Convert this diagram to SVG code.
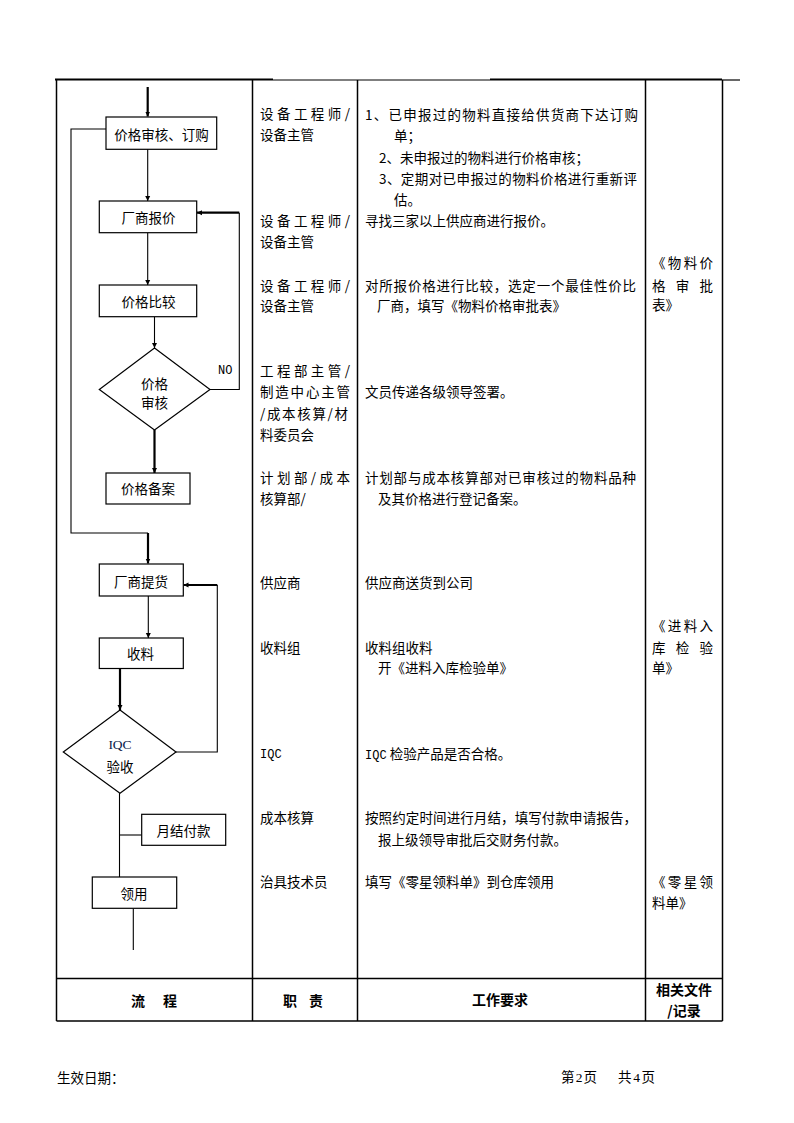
<svg xmlns="http://www.w3.org/2000/svg" width="794" height="1123" viewBox="0 0 794 1123">
<defs>
<marker id="arr" markerUnits="userSpaceOnUse" markerWidth="6" markerHeight="6" refX="5" refY="3" orient="auto">
<path d="M0,0.5 L5,3 L0,5.5 z" fill="#000"/>
</marker>
<style>
.t{font-family:"Noto Sans CJK SC","Noto Sans",sans-serif;font-size:13.5px;fill:#000}
.c{text-anchor:middle}
.h{font-family:"Noto Sans CJK SC","Noto Sans",sans-serif;font-size:14px;font-weight:bold;fill:#000}
.m{font-family:"Liberation Mono","DejaVu Sans Mono",monospace;font-size:12px;fill:#000}
.tb{stroke:#000;stroke-width:1.5;fill:none}
.bx{fill:#fff;stroke:#000;stroke-width:1.2}
.ln{stroke:#000;stroke-width:1.1;fill:none}
.lk{stroke:#000;stroke-width:2.2;fill:none}
</style>
</defs>
<rect width="794" height="1123" fill="#fff"/>

<g id="table">
<line x1="55" y1="79.5" x2="273" y2="79.5" stroke="#000" stroke-width="2.2"/>
<line x1="273" y1="80" x2="490" y2="80" stroke="#000" stroke-width="1.2"/>
<line x1="490" y1="79.5" x2="722" y2="79.5" stroke="#000" stroke-width="2.2"/>
<line x1="722" y1="80" x2="740" y2="80" stroke="#000" stroke-width="1.2"/>
<line class="tb" x1="56.5" y1="80" x2="56.5" y2="1021"/>
<line class="tb" x1="252.5" y1="80" x2="252.5" y2="1021"/>
<line class="tb" x1="357.5" y1="80" x2="357.5" y2="1021"/>
<line class="tb" x1="645.5" y1="80" x2="645.5" y2="1021"/>
<line class="tb" x1="722.5" y1="80" x2="722.5" y2="1021"/>
<line class="tb" x1="56.5" y1="978.5" x2="722.5" y2="978.5"/>
<line class="tb" x1="56.5" y1="1021" x2="722.5" y2="1021"/>
<text class="h" x="131" y="1006" textLength="46" lengthAdjust="spacing">流　程</text>
<text class="h" x="283" y="1006" textLength="40" lengthAdjust="spacing">职 责</text>
<text class="h c" x="500" y="1005">工作要求</text>
<text class="h c" x="684" y="995">相关文件</text>
<text class="h c" x="684" y="1016">/记录</text>
</g>

<g id="connectors">
<line class="lk" x1="147.7" y1="87" x2="147.7" y2="116.5" marker-end="url(#arr)"/>
<polyline class="ln" points="106,129 71,129 71,533 148,533"/>
<line class="lk" x1="148" y1="533" x2="148" y2="563.5" marker-end="url(#arr)"/>
<line class="ln" x1="147.7" y1="149" x2="147.7" y2="201" marker-end="url(#arr)"/>
<line class="ln" x1="147.7" y1="233" x2="147.7" y2="285" marker-end="url(#arr)"/>
<line class="ln" x1="154.5" y1="317" x2="154.5" y2="348" marker-end="url(#arr)"/>
<polyline class="ln" points="210,389.5 239.3,389.5 239.3,212.7"/>
<line class="lk" x1="239.3" y1="212.7" x2="197" y2="212.7" marker-end="url(#arr)"/>
<line class="lk" x1="154.5" y1="430" x2="154.5" y2="473" marker-end="url(#arr)"/>
<line class="ln" x1="148.3" y1="596" x2="148.3" y2="638" marker-end="url(#arr)"/>
<polyline class="ln" points="176,752 217.3,752 217.3,585"/>
<line class="lk" x1="217.3" y1="585" x2="183.5" y2="585" marker-end="url(#arr)"/>
<line class="lk" x1="120" y1="668.5" x2="120" y2="710" marker-end="url(#arr)"/>
<line class="ln" x1="119.5" y1="793" x2="119.5" y2="877"/>
<line class="ln" x1="119.5" y1="835" x2="141.7" y2="835"/>
<line class="ln" x1="133.3" y1="908.5" x2="133.3" y2="950"/>
<text class="m" x="218" y="374">NO</text>
</g>

<g id="n1"><rect class="bx" x="106" y="117" width="110.7" height="32.3"/><text class="t c" x="161.5" y="140">价格审核、订购</text></g>
<g id="n2"><rect class="bx" x="99.3" y="201" width="97.4" height="31.7"/><text class="t c" x="148.5" y="222.5">厂商报价</text></g>
<g id="n3"><rect class="bx" x="99.3" y="285" width="97.4" height="31.7"/><text class="t c" x="148.5" y="306.5">价格比较</text></g>
<g id="n4"><polygon class="bx" points="154.5,348 210,389.5 154.5,430 99.3,389.5"/><text class="t c" x="154.5" y="389">价格</text><text class="t c" x="154.5" y="408">审核</text></g>
<g id="n5"><rect class="bx" x="106" y="473" width="84" height="31"/><text class="t c" x="148" y="494">价格备案</text></g>
<g id="n6"><rect class="bx" x="99.3" y="564" width="84" height="32"/><text class="t c" x="141" y="587">厂商提货</text></g>
<g id="n7"><rect class="bx" x="99.3" y="638" width="84" height="30.5"/><text class="t c" x="140.5" y="659">收料</text></g>
<g id="n8"><polygon class="bx" points="120,710 176,752 120,793.3 63.3,752"/><text class="c" x="120" y="749" font-family="Liberation Serif, serif" font-size="13.5" fill="#0a1a4a">IQC</text><text class="t c" x="120" y="771.5">验收</text></g>
<g id="n9"><rect class="bx" x="141.7" y="814.3" width="84" height="31"/><text class="t c" x="183.5" y="835.5">月结付款</text></g>
<g id="n10"><rect class="bx" x="92.3" y="877" width="84.4" height="31.3"/><text class="t c" x="134" y="898.5">领用</text></g>

<g id="col-duty">
<text class="t" x="260" y="119" textLength="90" lengthAdjust="spacing">设备工程师/</text>
<text class="t" x="260" y="140">设备主管</text>
<text class="t" x="260" y="226" textLength="90" lengthAdjust="spacing">设备工程师/</text>
<text class="t" x="260" y="247">设备主管</text>
<text class="t" x="260" y="291" textLength="90" lengthAdjust="spacing">设备工程师/</text>
<text class="t" x="260" y="311">设备主管</text>
<text class="t" x="260" y="376" textLength="90" lengthAdjust="spacing">工程部主管/</text>
<text class="t" x="260" y="397" textLength="90" lengthAdjust="spacing">制造中心主管</text>
<text class="t" x="260" y="419" textLength="88" lengthAdjust="spacing">/成本核算/材</text>
<text class="t" x="260" y="440">料委员会</text>
<text class="t" x="260" y="483" textLength="90" lengthAdjust="spacing">计划部/成本</text>
<text class="t" x="260" y="504">核算部/</text>
<text class="t" x="260" y="588">供应商</text>
<text class="t" x="260" y="653">收料组</text>
<text class="m" x="260" y="758">IQC</text>
<text class="t" x="260" y="823">成本核算</text>
<text class="t" x="260" y="887">治具技术员</text>
</g>

<g id="col-work">
<text class="t" x="365" y="119.5" textLength="273" lengthAdjust="spacing">1、已申报过的物料直接给供货商下达订购</text>
<text class="t" x="394" y="141">单；</text>
<text class="t" x="379" y="162.5">2、未申报过的物料进行价格审核；</text>
<text class="t" x="379" y="184" textLength="258" lengthAdjust="spacing">3、定期对已申报过的物料价格进行重新评</text>
<text class="t" x="394" y="204.5">估。</text>
<text class="t" x="365" y="226">寻找三家以上供应商进行报价。</text>
<text class="t" x="365" y="291" textLength="271" lengthAdjust="spacing">对所报价格进行比较，选定一个最佳性价比</text>
<text class="t" x="377" y="311">厂商，填写《物料价格审批表》</text>
<text class="t" x="365" y="397">文员传递各级领导签署。</text>
<text class="t" x="365" y="483" textLength="271" lengthAdjust="spacing">计划部与成本核算部对已审核过的物料品种</text>
<text class="t" x="378" y="504">及其价格进行登记备案。</text>
<text class="t" x="365" y="588">供应商送货到公司</text>
<text class="t" x="365" y="653">收料组收料</text>
<text class="t" x="378" y="673">开《进料入库检验单》</text>
<text class="t" x="365" y="759"><tspan class="m">IQC</tspan> 检验产品是否合格。</text>
<text class="t" x="365" y="823" textLength="272" lengthAdjust="spacing">按照约定时间进行月结，填写付款申请报告，</text>
<text class="t" x="378" y="844.5">报上级领导审批后交财务付款。</text>
<text class="t" x="365" y="886.5">填写《零星领料单》到仓库领用</text>
</g>

<g id="col-doc">
<text class="t" x="652" y="268" textLength="61" lengthAdjust="spacing">《物料价</text>
<text class="t" x="652" y="291" textLength="61" lengthAdjust="spacing">格 审 批</text>
<text class="t" x="652" y="310">表》</text>
<text class="t" x="652" y="631" textLength="61" lengthAdjust="spacing">《进料入</text>
<text class="t" x="652" y="653" textLength="61" lengthAdjust="spacing">库 检 验</text>
<text class="t" x="652" y="673">单》</text>
<text class="t" x="652" y="886.5" textLength="61" lengthAdjust="spacing">《零星领</text>
<text class="t" x="652" y="908">料单》</text>
</g>

<g id="footer">
<text class="t" x="57" y="1083" font-size="14">生效日期：</text>
<text class="t" x="561" y="1082" font-size="14" textLength="36" lengthAdjust="spacing">第<tspan font-family="Liberation Serif, serif">2</tspan>页</text>
<text class="t" x="618" y="1082" font-size="14" textLength="37" lengthAdjust="spacing">共<tspan font-family="Liberation Serif, serif">4</tspan>页</text>
</g>
</svg>
